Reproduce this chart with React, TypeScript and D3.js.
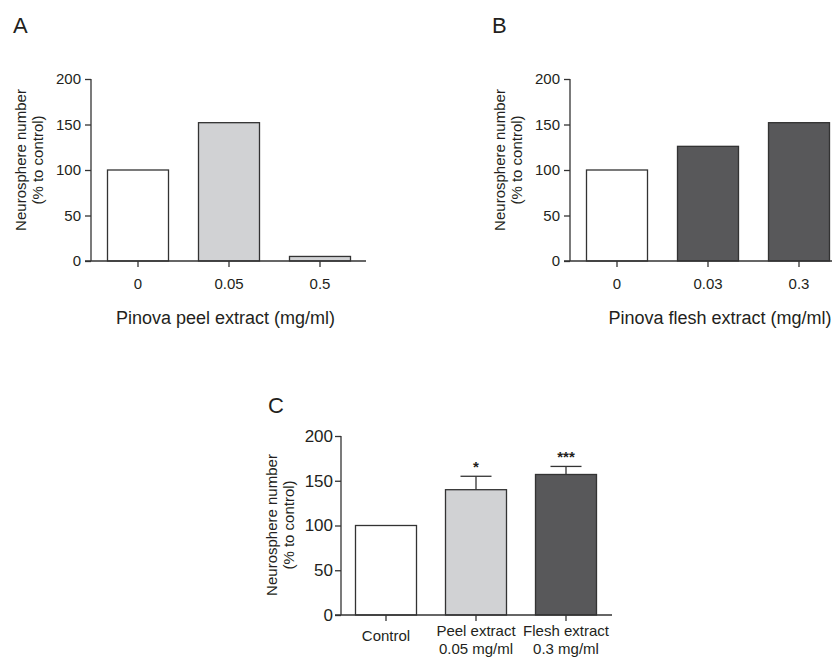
import React, { useEffect, useRef } from "react";
import * as d3 from "d3";

// panel A: peel extract dose
const peelDoses = ["0", "0.05", "0.5"];
const peelValues = [100, 152, 5];
const peelFills = ["#ffffff", "#d1d2d4", "#d1d2d4"];

// panel B: flesh extract dose
const fleshDoses = ["0", "0.03", "0.3"];
const fleshValues = [100, 126, 152];
const fleshFills = ["#ffffff", "#58585a", "#58585a"];

// panel C: comparison with SEM
const compGroups = ["Control", "Peel extract\n0.05 mg/ml", "Flesh extract\n0.3 mg/ml"];
const compValues = [100, 140, 157];
const compErrors = [0, 15, 9];
const compStars = ["", "*", "***"];
const compFills = ["#ffffff", "#d1d2d4", "#58585a"];

const yTicks = [0, 50, 100, 150, 200];

const INK = "#231f20";
const FONT = "'Liberation Sans', Arial, Helvetica, sans-serif";

type PanelOpts = {
  letter: string;
  letterX: number;
  letterY: number;
  cats: string[];
  values: number[];
  fills: string[];
  errors?: number[];
  stars?: string[];
  axisX: number;
  xRange: [number, number];
  xAxisEnd: number;
  y0: number;
  y200: number;
  padInner: number;
  titleX?: number;
  title?: string;
  yTitleX: number;
  yTitleY: number;
  tickFont: number;
  tickPad: number;
  catFontY: number;
};

function drawPanel(svg: d3.Selection<SVGSVGElement, unknown, null, undefined>, o: PanelOpts) {
  const g = svg.append("g");

  const x = d3.scaleBand<string>()
    .domain(o.cats)
    .range(o.xRange)
    .paddingInner(o.padInner)
    .paddingOuter(o.padInner / 2);

  const y = d3.scaleLinear().domain([0, 200]).range([o.y0, o.y200]);

  // bars
  g.selectAll("rect.bar")
    .data(o.values)
    .enter().append("rect")
    .attr("x", (_, i) => x(o.cats[i])!)
    .attr("y", d => y(d))
    .attr("width", x.bandwidth())
    .attr("height", d => y(0) - y(d))
    .attr("fill", (_, i) => o.fills[i])
    .attr("stroke", "#333")
    .attr("stroke-width", 1.3);

  // error bars (upper only)
  if (o.errors) {
    o.errors.forEach((e, i) => {
      if (!e) return;
      const cx = x(o.cats[i])! + x.bandwidth() / 2;
      const top = y(o.values[i] + e);
      g.append("line")
        .attr("x1", cx).attr("x2", cx)
        .attr("y1", y(o.values[i])).attr("y2", top)
        .attr("stroke", "#333").attr("stroke-width", 1.3);
      g.append("line")
        .attr("x1", cx - 15.5).attr("x2", cx + 15.5)
        .attr("y1", top).attr("y2", top)
        .attr("stroke", "#333").attr("stroke-width", 1.3);
      if (o.stars && o.stars[i]) {
        g.append("text")
          .attr("x", cx).attr("y", top - 4)
          .attr("text-anchor", "middle")
          .attr("font-size", 15)
          .attr("font-weight", "bold")
          .attr("fill", INK)
          .text(o.stars[i]);
      }
    });
  }

  // y axis
  const yAxis = g.append("g")
    .attr("transform", `translate(${o.axisX},0)`)
    .call(d3.axisLeft(y).tickValues(yTicks).tickSize(6).tickPadding(o.tickPad));
  yAxis.select(".domain").attr("d", `M0,${o.y200}V${o.y0}`);

  // x axis
  const xAxis = g.append("g")
    .attr("transform", `translate(0,${o.y0})`)
    .call(d3.axisBottom(x).tickSize(6).tickFormat(() => ""));
  xAxis.select(".domain").attr("d", `M${o.axisX - 6},0H${o.xAxisEnd}`);

  [yAxis, xAxis].forEach(a => {
    a.selectAll("path, line").attr("stroke", "#333").attr("stroke-width", 1.3);
    a.selectAll("text").attr("font-size", o.tickFont).attr("font-family", FONT).attr("fill", INK);
  });

  // category labels (may be two lines)
  o.cats.forEach(c => {
    const lines = c.split("\n");
    const cx = x(c)! + x.bandwidth() / 2;
    const t = g.append("text")
      .attr("text-anchor", "middle")
      .attr("font-size", 15)
      .attr("fill", INK);
    if (lines.length === 1) {
      t.attr("x", cx).attr("y", o.catFontY + (o.errors ? 5 : 0)).text(c);
    } else {
      lines.forEach((l, k) => {
        t.append("tspan").attr("x", cx).attr("y", o.catFontY + k * 18).text(l);
      });
    }
  });

  // x title
  if (o.title) {
    g.append("text")
      .attr("x", o.titleX!)
      .attr("y", o.y0 + 63)
      .attr("text-anchor", "middle")
      .attr("font-size", 18)
      .attr("fill", INK)
      .text(o.title);
  }

  // y title
  const yt = g.append("text")
    .attr("transform", `translate(${o.yTitleX},${o.yTitleY}) rotate(-90)`)
    .attr("text-anchor", "middle")
    .attr("font-size", 15)
    .attr("fill", INK);
  yt.append("tspan").attr("x", 0).attr("y", 0).text("Neurosphere number");
  yt.append("tspan").attr("x", 0).attr("y", 17).text("(% to control)");

  // panel letter
  g.append("text")
    .attr("x", o.letterX)
    .attr("y", o.letterY)
    .attr("font-size", 22)
    .attr("fill", INK)
    .text(o.letter);
}

export default function App() {
  const ref = useRef<SVGSVGElement>(null);

  useEffect(() => {
    const svg = d3.select(ref.current!);
    svg.selectAll("*").remove();
    svg.attr("font-family", FONT);

    drawPanel(svg, {
      letter: "A", letterX: 13, letterY: 33,
      cats: peelDoses, values: peelValues, fills: peelFills,
      axisX: 91, xRange: [92.5, 365.5], xAxisEnd: 366, y0: 261, y200: 79,
      padInner: 30 / 91, title: "Pinova peel extract (mg/ml)", titleX: 225.5,
      yTitleX: 26, yTitleY: 160, tickFont: 15, tickPad: 4, catFontY: 289,
    });

    drawPanel(svg, {
      letter: "B", letterX: 492, letterY: 33,
      cats: fleshDoses, values: fleshValues, fills: fleshFills,
      axisX: 570, xRange: [571.5, 844.5], xAxisEnd: 840, y0: 261, y200: 79,
      padInner: 30 / 91, title: "Pinova flesh extract (mg/ml)", titleX: 720,
      yTitleX: 505, yTitleY: 160, tickFont: 15, tickPad: 4, catFontY: 289,
    });

    drawPanel(svg, {
      letter: "C", letterX: 268, letterY: 413,
      cats: compGroups, values: compValues, fills: compFills,
      errors: compErrors, stars: compStars,
      axisX: 341, xRange: [341, 611], xAxisEnd: 612, y0: 615, y200: 436,
      padInner: 29 / 90,
      yTitleX: 277, yTitleY: 525, tickFont: 17, tickPad: 2, catFontY: 636,
    });
  }, []);

  return (
    <svg
      ref={ref}
      width={832}
      height={657}
      style={{ position: "absolute", left: 0, top: 0, background: "#fff" }}
    />
  );
}
